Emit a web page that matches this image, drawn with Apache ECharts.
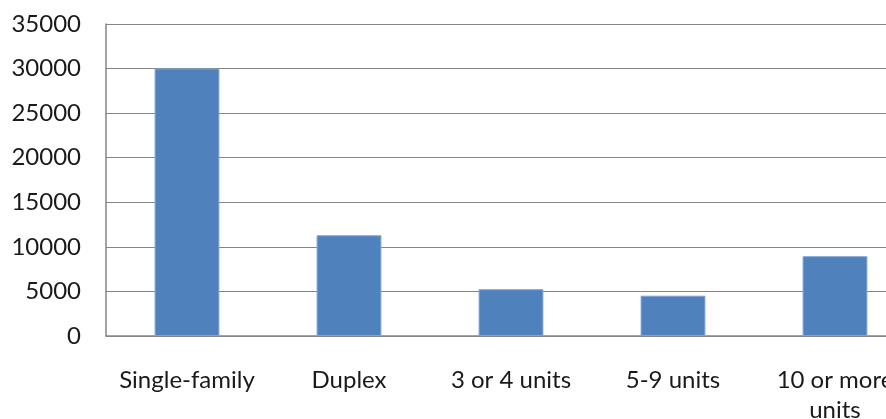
<!DOCTYPE html>
<html>
<head>
<meta charset="utf-8">
<script src="https://cdn.jsdelivr.net/npm/echarts@6/dist/echarts.min.js"></script>
<style>
html,body{margin:0;padding:0;background:#fff;}
#c{width:886px;height:419px;}
</style>
</head>
<body>
<div id="c"></div>
<script>
const categories = ["Single-family", "Duplex", "3 or 4 units", "5-9 units", "10 or more units"];
const values = [30000, 11300, 5250, 4520, 8950];
const yTicks = { min: 0, max: 35000, interval: 5000 };

const chart = echarts.init(document.getElementById('c'));
chart.setOption({
  animation: false,
  grid: { left: 106, top: 24, width: 810, height: 312, containLabel: false, outerBoundsMode: 'none' },
  xAxis: {
    type: 'category',
    data: categories,
    axisLine: { lineStyle: { color: '#868686', width: 1.5 } },
    axisTick: { show: false },
    axisLabel: {
      color: '#1a1a1a', fontFamily: 'Lato', fontSize: 24, margin: 29,
      lineHeight: 30, interval: 0, hideOverlap: false,
      formatter: v => v.length > 14 ? v.replace(/ (units)$/, '\n$1') : v
    }
  },
  yAxis: {
    type: 'value',
    min: yTicks.min, max: yTicks.max, interval: yTicks.interval,
    axisLine: { show: true, lineStyle: { color: '#868686', width: 1.5 } },
    axisTick: { show: false },
    splitLine: { lineStyle: { color: '#868686', width: 1.2 } },
    axisLabel: { color: '#1a1a1a', fontFamily: 'Lato', fontSize: 24, margin: 25,
      formatter: v => String(v) }
  },
  series: [{
    type: 'bar',
    data: values,
    barWidth: '40%',
    itemStyle: { color: '#4F81BD', borderColor: '#7FA4D4', borderWidth: 1 }
  }]
});
</script>
</body>
</html>
